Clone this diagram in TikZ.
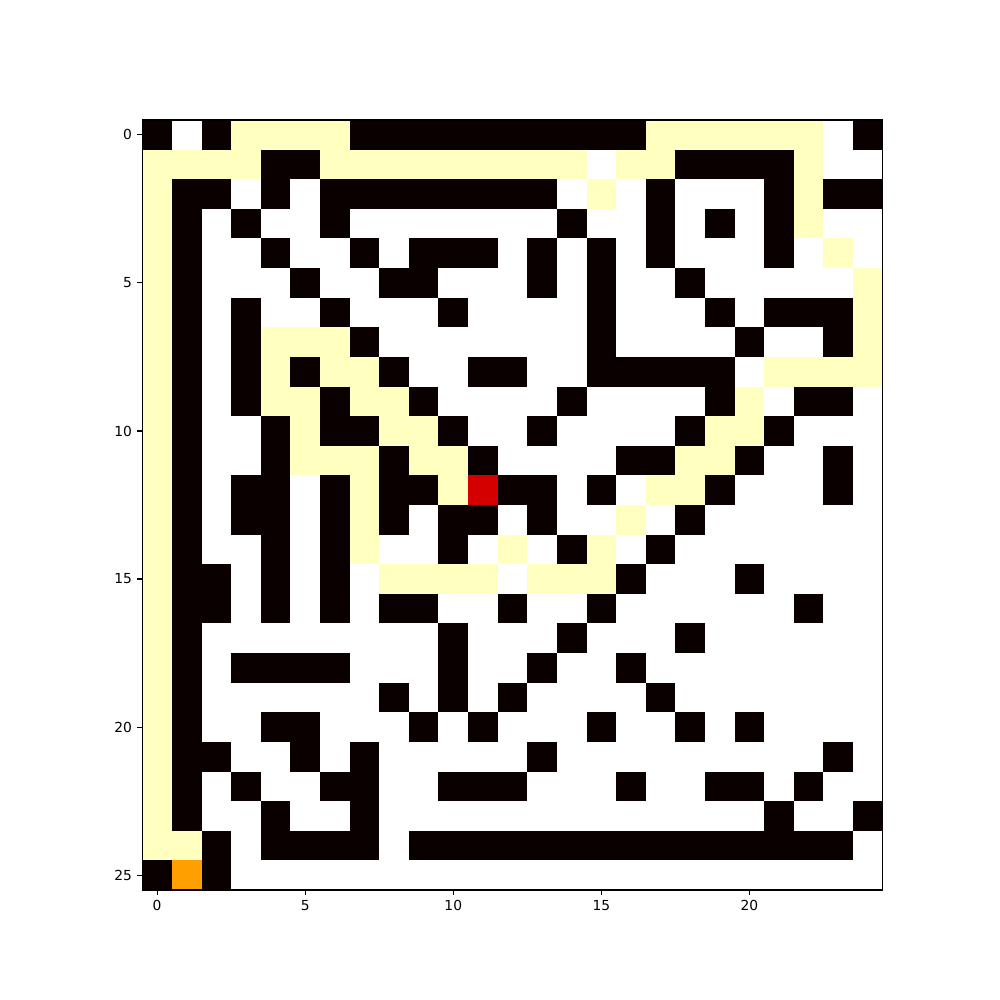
\documentclass[tikz,border=0pt]{standalone}
\usepackage{fontspec}
\setmainfont{DejaVu Sans}
\definecolor{wall}{HTML}{0B0000}
\definecolor{trail}{HTML}{FFFFBF}
\definecolor{goal}{HTML}{D40000}
\definecolor{origin}{HTML}{FFA000}
\newcommand{\mazecell}[3]{\fill[#1] ({142.3+29.615*#3},{120+29.615*#2}) rectangle ++(29.615,29.615);}
\tikzset{
  axisline/.style={black,line width=0.8pt},
  ticklab/.style={inner sep=0pt,font=\fontsize{10}{12}\selectfont}
}
\begin{document}
\begin{tikzpicture}[x=0.254mm,y=-0.254mm]
  \useasboundingbox (0,0) rectangle (1000,1000);
  \fill[white] (0,0) rectangle (1000,1000);

  % walls, row by row
  \foreach \r/\cl in {
    0/{0,2,7,8,9,10,11,12,13,14,15,16,24},
    1/{4,5,18,19,20,21},
    2/{1,2,4,6,7,8,9,10,11,12,13,17,21,23,24},
    3/{1,3,6,14,17,19,21},
    4/{1,4,7,9,10,11,13,15,17,21},
    5/{1,5,8,9,13,15,18},
    6/{1,3,6,10,15,19,21,22,23},
    7/{1,3,7,15,20,23},
    8/{1,3,5,8,11,12,15,16,17,18,19},
    9/{1,3,6,9,14,19,22,23},
    10/{1,4,6,7,10,13,18,21},
    11/{1,4,8,11,16,17,20,23},
    12/{1,3,4,6,8,9,12,13,15,19,23},
    13/{1,3,4,6,8,10,11,13,18},
    14/{1,4,6,10,14,17},
    15/{1,2,4,6,16,20},
    16/{1,2,4,6,8,9,12,15,22},
    17/{1,10,14,18},
    18/{1,3,4,5,6,10,13,16},
    19/{1,8,10,12,17},
    20/{1,4,5,9,11,15,18,20},
    21/{1,2,5,7,13,23},
    22/{1,3,6,7,10,11,12,16,19,20,22},
    23/{1,4,7,21,24},
    24/{2,4,5,6,7,9,10,11,12,13,14,15,16,17,18,19,20,21,22,23},
    25/{0,2}}
  { \foreach \c in \cl {\mazecell{wall}{\r}{\c}} }

  % path cells
  \foreach \r/\cl in {
    0/{3,4,5,6,17,18,19,20,21,22},
    1/{0,1,2,3,6,7,8,9,10,11,12,13,14,16,17,22},
    2/{0,15,22},
    3/{0,22},
    4/{0,23},
    5/{0,24},
    6/{0,24},
    7/{0,4,5,6,24},
    8/{0,4,6,7,21,22,23,24},
    9/{0,4,5,7,8,20},
    10/{0,5,8,9,19,20},
    11/{0,5,6,7,9,10,18,19},
    12/{0,7,10,17,18},
    13/{0,7,16},
    14/{0,7,12,15},
    15/{0,8,9,10,11,13,14,15},
    16/{0}, 17/{0}, 18/{0}, 19/{0}, 20/{0}, 21/{0}, 22/{0}, 23/{0},
    24/{0,1}}
  { \foreach \c in \cl {\mazecell{trail}{\r}{\c}} }

  % end points
  \mazecell{goal}{12}{11}
  \mazecell{origin}{25}{1}

  % frame and ticks
  \draw[axisline] (142.3,120) rectangle (882.7,890);
  \foreach \k in {0,5,10,15,20,25}
    \draw[axisline] (142.3,{120+29.615*(\k+0.5)}) -- ++(-4.86,0)
      node[ticklab,anchor=east,xshift=-3.5pt] (ylab\k) {\k};
  \foreach \k in {0,5,10,15,20}
    \draw[axisline] ({142.3+29.615*(\k+0.5)},890) -- ++(0,4.86)
      node[ticklab,anchor=north,yshift=-3.5pt] (xlab\k) {\k};
\end{tikzpicture}
\end{document}
